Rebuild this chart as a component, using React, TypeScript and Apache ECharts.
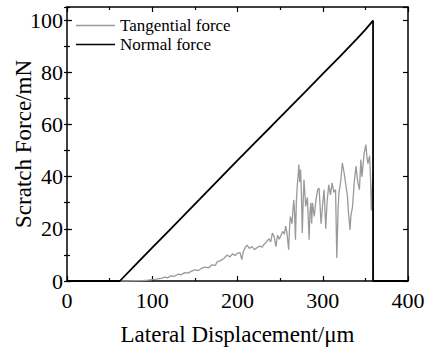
import React, { useEffect, useRef } from "react";
import * as echarts from "echarts";

// Lateral displacement (µm) / force (mN)
const normalX = [0, 62, 80, 100, 120, 140, 160, 180, 200, 220, 240, 260, 280, 300, 320, 340, 350, 359, 359, 400];
const normalY = [0, 0, 6.1, 12.8, 19.4, 26.1, 32.8, 39.5, 46.2, 52.8, 59.4, 66.1, 72.7, 79.4, 86.0, 92.8, 96.3, 99.8, 0, 0];

const tanX = [
  62, 70, 80, 90, 95, 100, 105, 110, 115, 118, 122, 126, 130, 134, 138, 142, 146, 150, 154, 158,
  162, 166, 170, 174, 176, 180, 184, 188, 191, 194, 197, 200, 203, 205, 207, 209, 211, 214, 217, 220,
  223, 226, 229, 231, 234, 237, 239, 241, 243, 245, 247, 249, 251, 253, 255, 256.5, 258, 260, 261, 262,
  264, 265, 266, 267, 268, 269, 270, 271, 272, 273, 274, 275, 276, 277, 278, 279, 280, 282, 284, 285,
  286, 287, 288, 290, 292, 294, 295.7, 297, 298, 300, 301.6, 303.5, 305, 307, 309, 311, 313, 315, 316.5, 318,
  319, 321, 323, 325, 327, 329, 330, 332, 333, 335, 337, 339, 341, 343, 344.7, 346, 348.6, 350.6, 352, 353,
  355, 356, 357, 358, 359, 359.5, 400,
];
const tanY = [
  0, 0, 0.1, 0.2, 0.3, 0.5, 0.7, 1.0, 1.5, 1.2, 2.0, 1.8, 2.6, 2.4, 3.2, 3.0, 3.8, 4.3, 4.0, 4.9,
  5.3, 5.0, 6.2, 6.0, 7.3, 7.8, 8.6, 10.0, 9.2, 10.4, 9.8, 10.6, 10.9, 8.2, 11.5, 12.8, 13.8, 12.5, 13.2, 12.0,
  12.8, 13.4, 13.0, 14.0, 15.0, 16.2, 15.0, 18.4, 17.0, 13.2, 17.5, 16.0, 17.5, 19.0, 18.0, 21.0, 18.5, 12.0, 20.0, 24.7,
  22.0, 27.0, 31.0, 26.0, 15.8, 30.0, 36.0, 40.0, 44.6, 38.0, 42.7, 33.0, 18.4, 30.0, 38.8, 34.0, 28.6, 32.0, 15.8, 26.0,
  30.0, 22.0, 30.0, 24.7, 31.0, 35.0, 35.6, 28.0, 22.0, 30.0, 35.0, 20.0, 30.0, 36.9, 33.0, 37.6, 34.0, 35.0, 8.8, 28.0,
  33.8, 38.0, 45.3, 41.5, 37.0, 32.4, 27.0, 19.6, 25.0, 28.6, 38.0, 44.0, 38.0, 35.0, 46.5, 40.0, 49.0, 52.3, 47.0, 45.0,
  48.0, 40.0, 27.0, 35.0, 41.5, 0, 0,
];

const seriesNames = ["Tangential force", "Normal force"];

export default function App() {
  const ref = useRef<HTMLDivElement>(null);
  useEffect(() => {
    const chart = echarts.init(ref.current!, null, { renderer: "svg" });
    const font = "Liberation Serif";
    const lineStyle = { color: "#000", width: 1.5 };
    const xBase = {
      type: "value" as const,
      min: 0,
      max: 400,
      interval: 100,
      splitLine: { show: false },
      axisLine: { show: true, onZero: false, lineStyle },
      axisTick: { show: true, inside: true, length: 5, lineStyle: { color: "#000", width: 1.2 } },
      minorTick: { show: true, splitNumber: 2, length: 3, lineStyle: { color: "#000", width: 1.2 } },
      minorSplitLine: { show: false },
    };
    const yMajor = {
      type: "value" as const,
      min: 0,
      max: 105,
      interval: 20,
      splitLine: { show: false },
      axisLine: { show: true, onZero: false, lineStyle },
      axisTick: { show: true, inside: true, length: 5, lineStyle: { color: "#000", width: 1.2 } },
    };
    const yMinor = {
      type: "value" as const,
      min: 0,
      max: 105,
      interval: 10,
      splitLine: { show: false },
      axisLine: { show: false },
      axisLabel: { show: false },
      axisTick: { show: true, inside: true, length: 3, lineStyle: { color: "#000", width: 1.2 } },
    };
    chart.setOption({
      animation: false,
      backgroundColor: "#fff",
      textStyle: { fontFamily: font },
      grid: { left: 67, right: 24, top: 7, bottom: 68, containLabel: false, outerBoundsMode: "none" },
      legend: {
        orient: "vertical",
        left: 76,
        top: 17,
        padding: 0,
        icon: "rect",
        itemWidth: 39,
        itemHeight: 1.5,
        itemGap: 2,
        data: seriesNames,
        textStyle: { fontFamily: font, fontSize: 17, color: "#000", padding: [0, 0, 0, 0] },
      },
      xAxis: [
        {
          ...xBase,
          position: "bottom",
          name: "Lateral Displacement/μm",
          nameLocation: "middle",
          nameGap: 42,
          nameMoveOverlap: false,
          nameTextStyle: { fontFamily: font, fontSize: 23, color: "#000" },
          axisLabel: { show: true, margin: 8, fontFamily: font, fontSize: 22, color: "#000" },
        },
        { ...xBase, position: "top", axisLabel: { show: false } },
      ],
      yAxis: [
        {
          ...yMajor,
          position: "left",
          name: "Scratch Force/mN",
          nameLocation: "middle",
          nameGap: 32,
          nameRotate: 90,
          nameMoveOverlap: false,
          nameTextStyle: { fontFamily: font, fontSize: 23, color: "#000" },
          axisLabel: {
            show: true,
            margin: 4,
            fontFamily: font,
            fontSize: 22,
            color: "#000",
            showMaxLabel: false,
            formatter: (v: number) => (v % 20 === 0 ? String(v) : ""),
          },
        },
        { ...yMajor, position: "right", axisLabel: { show: false } },
        { ...yMinor, position: "left" },
        { ...yMinor, position: "right" },
      ],
      series: [
        {
          name: seriesNames[0],
          type: "line",
          xAxisIndex: 0,
          yAxisIndex: 0,
          symbol: "none",
          lineStyle: { color: "#9a9a9a", width: 1.3 },
          itemStyle: { color: "#9a9a9a" },
          data: tanX.map((x, i) => [x, tanY[i]]),
        },
        {
          name: seriesNames[1],
          type: "line",
          xAxisIndex: 0,
          yAxisIndex: 0,
          symbol: "none",
          lineStyle: { color: "#000", width: 1.8 },
          itemStyle: { color: "#000" },
          data: normalX.map((x, i) => [x, normalY[i]]),
        },
      ],
    });
    return () => chart.dispose();
  }, []);
  return <div ref={ref} style={{ position: "absolute", left: 0, top: 0, width: 432, height: 349 }} />;
}
